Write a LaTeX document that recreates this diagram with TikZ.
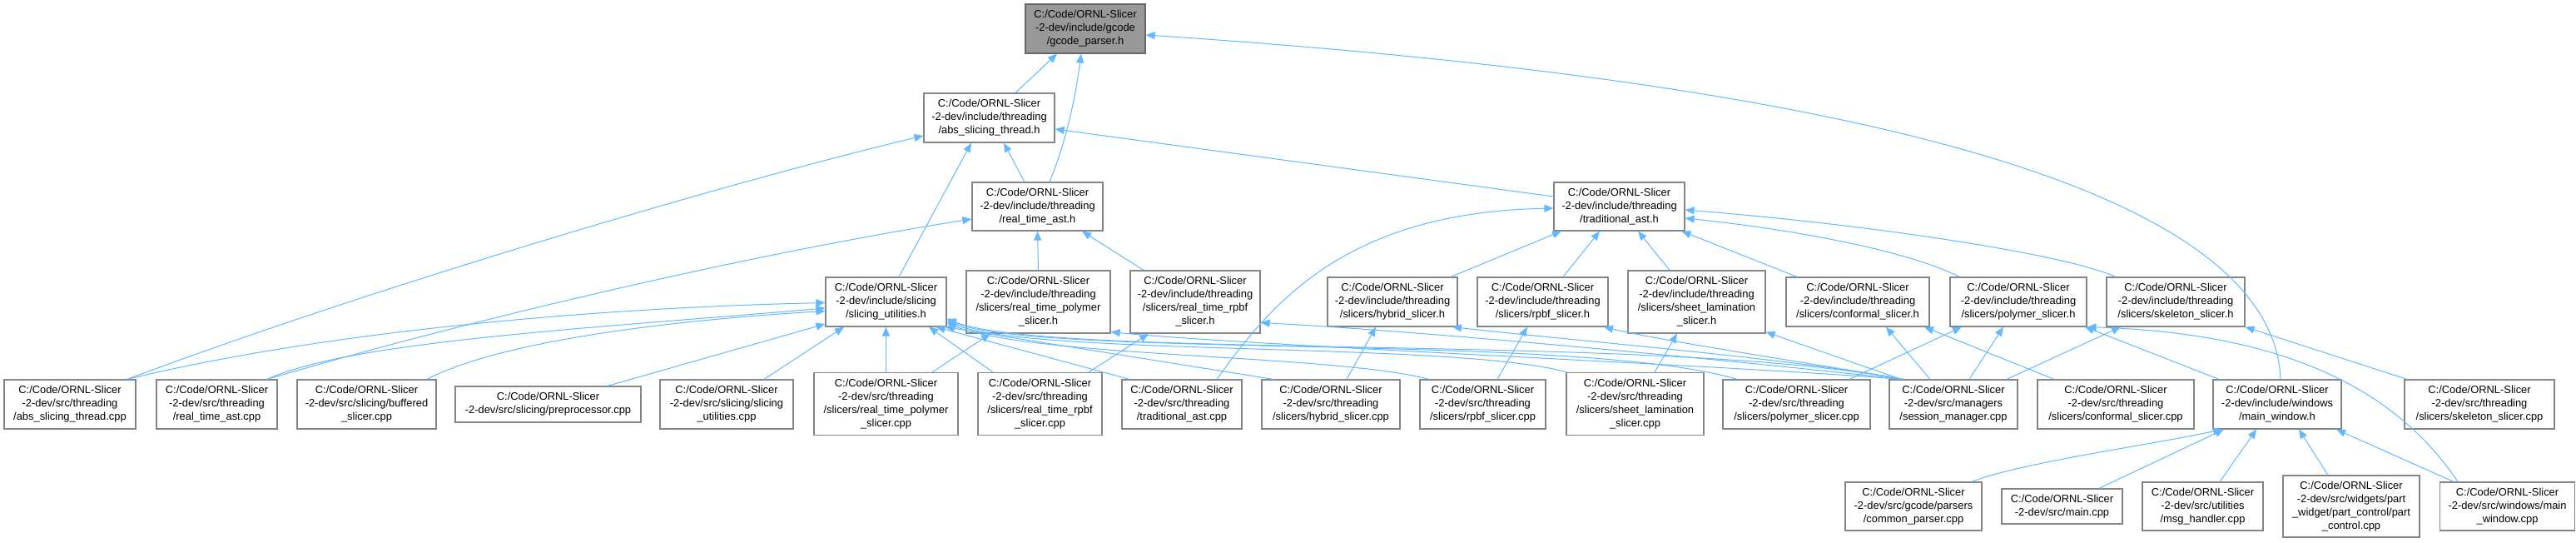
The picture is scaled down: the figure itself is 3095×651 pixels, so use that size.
\documentclass[tikz,border=0pt]{standalone}
\usepackage{fontspec}
\setmainfont{Liberation Sans}
\usetikzlibrary{arrows.meta}
\definecolor{edgeblue}{HTML}{63B8FF}
\definecolor{nodeborder}{HTML}{858585}
\definecolor{rootborder}{HTML}{666666}
\definecolor{rootfill}{HTML}{999999}
\tikzset{
  box/.style={draw=nodeborder, fill=white, line width=1.2pt, align=center, inner sep=0pt,
    font=\fontsize{12.9}{16}\selectfont},
  rootbox/.style={box, draw=rootborder, fill=rootfill},
  edge/.style={draw=edgeblue, line width=1pt, -{Triangle[length=11pt,width=9pt]}},
}
\begin{document}
\begin{tikzpicture}[x=1pt,y=-1pt]
\useasboundingbox (0,0) rectangle (3095,651);
% level 0-2
\node[rootbox, minimum width=144, minimum height=59] (gp) at (1304,34.5) {C:/Code/ORNL-Slicer\\-2-dev/include/gcode\\/gcode\_parser.h};
\node[box, minimum width=157, minimum height=59] (asth) at (1188.5,141.5) {C:/Code/ORNL-Slicer\\-2-dev/include/threading\\/abs\_slicing\_thread.h};
\node[box, minimum width=157, minimum height=58] (rtah) at (1246.5,248) {C:/Code/ORNL-Slicer\\-2-dev/include/threading\\/real\_time\_ast.h};
\node[box, minimum width=157, minimum height=58] (trah) at (1945.5,248) {C:/Code/ORNL-Slicer\\-2-dev/include/threading\\/traditional\_ast.h};
% level 3
\node[box, minimum width=145, minimum height=59] (suh) at (1064.5,362.5) {C:/Code/ORNL-Slicer\\-2-dev/include/slicing\\/slicing\_utilities.h};
\node[box, minimum width=173, minimum height=75] (rtph) at (1247.5,362.5) {C:/Code/ORNL-Slicer\\-2-dev/include/threading\\/slicers/real\_time\_polymer\\\_slicer.h};
\node[box, minimum width=156, minimum height=75] (rtrh) at (1436,362.5) {C:/Code/ORNL-Slicer\\-2-dev/include/threading\\/slicers/real\_time\_rpbf\\\_slicer.h};
\node[box, minimum width=156, minimum height=59] (hyh) at (1673,362.5) {C:/Code/ORNL-Slicer\\-2-dev/include/threading\\/slicers/hybrid\_slicer.h};
\node[box, minimum width=157, minimum height=59] (rph) at (1853.5,362.5) {C:/Code/ORNL-Slicer\\-2-dev/include/threading\\/slicers/rpbf\_slicer.h};
\node[box, minimum width=165, minimum height=75] (slh) at (2038.5,362.5) {C:/Code/ORNL-Slicer\\-2-dev/include/threading\\/slicers/sheet\_lamination\\\_slicer.h};
\node[box, minimum width=172, minimum height=59] (cfh) at (2232,362.5) {C:/Code/ORNL-Slicer\\-2-dev/include/threading\\/slicers/conformal\_slicer.h};
\node[box, minimum width=164, minimum height=59] (poh) at (2425,362.5) {C:/Code/ORNL-Slicer\\-2-dev/include/threading\\/slicers/polymer\_slicer.h};
\node[box, minimum width=166, minimum height=59] (skh) at (2614,362.5) {C:/Code/ORNL-Slicer\\-2-dev/include/threading\\/slicers/skeleton\_slicer.h};
% level 4
\node[box, minimum width=158, minimum height=59] (astc) at (84,485.5) {C:/Code/ORNL-Slicer\\-2-dev/src/threading\\/abs\_slicing\_thread.cpp};
\node[box, minimum width=145, minimum height=59] (rtac) at (260.5,485.5) {C:/Code/ORNL-Slicer\\-2-dev/src/threading\\/real\_time\_ast.cpp};
\node[box, minimum width=167, minimum height=59] (bufc) at (440.5,485.5) {C:/Code/ORNL-Slicer\\-2-dev/src/slicing/buffered\\\_slicer.cpp};
\node[box, minimum width=223, minimum height=43] (prec) at (658.5,485.5) {C:/Code/ORNL-Slicer\\-2-dev/src/slicing/preprocessor.cpp};
\node[box, minimum width=160, minimum height=59] (suc) at (873,485.5) {C:/Code/ORNL-Slicer\\-2-dev/src/slicing/slicing\\\_utilities.cpp};
\node[box, minimum width=173, minimum height=75] (rtpc) at (1064.5,485) {C:/Code/ORNL-Slicer\\-2-dev/src/threading\\/slicers/real\_time\_polymer\\\_slicer.cpp};
\node[box, minimum width=149, minimum height=75] (rtrc) at (1249.5,485) {C:/Code/ORNL-Slicer\\-2-dev/src/threading\\/slicers/real\_time\_rpbf\\\_slicer.cpp};
\node[box, minimum width=144, minimum height=59] (trac) at (1420,485.5) {C:/Code/ORNL-Slicer\\-2-dev/src/threading\\/traditional\_ast.cpp};
\node[box, minimum width=166, minimum height=59] (hyc) at (1599,485.5) {C:/Code/ORNL-Slicer\\-2-dev/src/threading\\/slicers/hybrid\_slicer.cpp};
\node[box, minimum width=151, minimum height=59] (rpc) at (1781.5,485.5) {C:/Code/ORNL-Slicer\\-2-dev/src/threading\\/slicers/rpbf\_slicer.cpp};
\node[box, minimum width=165, minimum height=75] (slc) at (1964.5,485) {C:/Code/ORNL-Slicer\\-2-dev/src/threading\\/slicers/sheet\_lamination\\\_slicer.cpp};
\node[box, minimum width=177, minimum height=59] (poc) at (2158.5,485.5) {C:/Code/ORNL-Slicer\\-2-dev/src/threading\\/slicers/polymer\_slicer.cpp};
\node[box, minimum width=154, minimum height=59] (smc) at (2347,485.5) {C:/Code/ORNL-Slicer\\-2-dev/src/managers\\/session\_manager.cpp};
\node[box, minimum width=188, minimum height=59] (cfc) at (2542,485.5) {C:/Code/ORNL-Slicer\\-2-dev/src/threading\\/slicers/conformal\_slicer.cpp};
\node[box, minimum width=154, minimum height=59] (mwh) at (2736,485.5) {C:/Code/ORNL-Slicer\\-2-dev/include/windows\\/main\_window.h};
\node[box, minimum width=180, minimum height=59] (skc) at (2979,485.5) {C:/Code/ORNL-Slicer\\-2-dev/src/threading\\/slicers/skeleton\_slicer.cpp};
% level 5
\node[box, minimum width=164, minimum height=58] (cpc) at (2299,608) {C:/Code/ORNL-Slicer\\-2-dev/src/gcode/parsers\\/common\_parser.cpp};
\node[box, minimum width=145, minimum height=42] (mainc) at (2477.5,608) {C:/Code/ORNL-Slicer\\-2-dev/src/main.cpp};
\node[box, minimum width=145, minimum height=58] (msgc) at (2646.5,608) {C:/Code/ORNL-Slicer\\-2-dev/src/utilities\\/msg\_handler.cpp};
\node[box, minimum width=164, minimum height=74] (pcc) at (2825,608) {C:/Code/ORNL-Slicer\\-2-dev/src/widgets/part\\\_widget/part\_control/part\\\_control.cpp};
\node[box, minimum width=162, minimum height=58] (mwc) at (3012.5,608) {C:/Code/ORNL-Slicer\\-2-dev/src/windows/main\\\_window.cpp};

% edges to gcode_parser.h
\draw[edge] ([xshift=31.5pt]asth.north) -- ([xshift=-34pt]gp.south);
\draw[edge] ([xshift=14.5pt]rtah.north) .. controls (1283,165) and (1293,110) .. ([xshift=-5pt]gp.south);
\draw[edge] ([xshift=4pt]mwh.north) .. controls (2730,200) and (2100,90) .. ([yshift=-7.5pt]gp.east);
% edges to abs_slicing_thread.h
\draw[edge] ([xshift=-15.5pt]rtah.north) -- ([xshift=17.5pt]asth.south);
\draw[edge] ([xshift=69pt]astc.north) .. controls (420,355) and (850,225) .. ([yshift=-21.5pt]asth.west);
\draw[edge] ([xshift=15.5pt]suh.north) -- ([xshift=-21.5pt]asth.south);
\draw[edge] ([yshift=12pt]trah.west) -- ([yshift=-13.5pt]asth.east);
% edges to real_time_ast.h
\draw[edge] ([xshift=60.5pt]rtac.north) .. controls (560,385) and (900,305) .. ([yshift=-15pt]rtah.west);
\draw[edge] (rtph.north) -- (rtah.south);
\draw[edge] ([xshift=-62pt]rtrh.north) -- ([xshift=53.5pt]rtah.south);
% edges to traditional_ast.h
\draw[edge] ([xshift=42pt]trac.north) .. controls (1530,360) and (1620,255) .. ([yshift=-2pt]trah.west);
\draw[edge] ([xshift=70pt]hyh.north) -- ([xshift=-69.5pt]trah.south);
\draw[edge] ([xshift=24.5pt]rph.north) -- ([xshift=-23.5pt]trah.south);
\draw[edge] ([xshift=-32.5pt]slh.north) -- ([xshift=22.5pt]trah.south);
\draw[edge] ([xshift=-73pt]cfh.north) -- ([xshift=75pt]trah.south);
\draw[edge] ([xshift=-72pt]skh.north) .. controls (2480,305) and (2250,270) .. ([yshift=-4pt]trah.east);
\draw[edge] ([xshift=-71pt]poh.north) .. controls (2290,300) and (2150,275) .. ([yshift=-14pt]trah.east);
% edges to slicing_utilities.h
\draw[edge] ([xshift=69pt]astc.north) .. controls (380,400) and (700,370) .. ([yshift=-1pt]suh.west);
\draw[edge] ([xshift=60.5pt]rtac.north) .. controls (420,410) and (700,395) .. ([yshift=-7.5pt]suh.west);
\draw[edge] ([xshift=72.5pt]bufc.north) .. controls (600,410) and (800,385) .. ([yshift=-11pt]suh.west);
\draw[edge] ([xshift=71.5pt]prec.north) -- ([yshift=-26.5pt]suh.west);
\draw[edge] ([xshift=45pt]suc.north) -- ([xshift=-50.5pt]suh.south);
\draw[edge] (rtpc.north) -- (suh.south);
\draw[edge] ([xshift=-56.5pt]rtrc.north) -- ([xshift=51.5pt]suh.south);
\draw[edge] ([xshift=-63pt]trac.north) -- ([xshift=60pt]suh.south);
\draw[edge] ([xshift=-69pt]hyc.north) -- ([xshift=-2pt]suh.south east);
\draw[edge] ([xshift=-64.5pt]rpc.north) .. controls (1600,425) and (1250,430) .. ([yshift=4pt]suh.south east);
\draw[edge] ([xshift=-82pt]slc.north) .. controls (1750,410) and (1250,428) .. ([yshift=6pt]suh.south east);
\draw[edge] ([xshift=-71.5pt]poc.north) .. controls (1900,400) and (1260,430) .. ([yshift=8pt]suh.south east);
\draw[edge] ([xshift=-63pt]smc.north) .. controls (2000,400) and (1260,432) .. ([yshift=10pt]suh.south east);
% real time slicers
\draw[edge] ([xshift=55.5pt]rtpc.north) -- ([xshift=-57.5pt]rtph.south);
\draw[edge] ([xshift=58.5pt]rtrc.north) -- ([xshift=-56pt]rtrh.south);
\draw[edge] ([xshift=-63pt]smc.north) .. controls (2100,440) and (1500,415) .. ([yshift=2pt]rtph.south east);
\draw[edge] ([xshift=-63pt]smc.north) .. controls (2150,440) and (1750,400) .. ([yshift=-25pt]rtrh.east);
% traditional slicers
\draw[edge] ([xshift=19pt]hyc.north) -- ([xshift=-20pt]hyh.south);
\draw[edge] ([xshift=-60pt]smc.north) .. controls (2150,430) and (1900,410) .. ([xshift=72pt]hyh.south);
\draw[edge] ([xshift=17.5pt]rpc.north) -- ([xshift=-18.5pt]rph.south);
\draw[edge] ([xshift=-60pt]smc.north) .. controls (2200,440) and (2000,410) .. ([xshift=73.5pt]rph.south);
\draw[edge] ([xshift=23.5pt]slc.north) -- ([xshift=-23.5pt]slh.south);
\draw[edge] ([xshift=-63pt]smc.north) -- ([yshift=2pt]slh.south east);
\draw[edge] ([xshift=-28pt]smc.north) -- ([xshift=34pt]cfh.south);
\draw[edge] ([xshift=-74pt]cfc.north) -- ([xshift=80pt]cfh.south);
\draw[edge] ([xshift=63.5pt]poc.north) -- ([xshift=-68pt]poh.south);
\draw[edge] ([xshift=19pt]smc.north) -- ([xshift=-18pt]poh.south);
\draw[edge] ([xshift=-70pt]mwh.north) -- ([xshift=80pt]poh.south);
\draw[edge] ([xshift=-59.5pt]mwc.north) .. controls (2880,470) and (2750,400) .. (poh.south east);
\draw[edge] ([xshift=64pt]smc.north) -- ([xshift=-66pt]skh.south);
\draw[edge] ([xshift=-87pt]skc.north) -- (skh.south east);
% main_window.h
\draw[edge] ([xshift=70pt]cpc.north) .. controls (2430,555) and (2580,535) .. ([xshift=-66pt]mwh.south);
\draw[edge] ([xshift=44.5pt]mainc.north) -- ([xshift=-64pt]mwh.south);
\draw[edge] ([xshift=20.5pt]msgc.north) -- ([xshift=-25pt]mwh.south);
\draw[edge] ([xshift=-28pt]pcc.north) -- ([xshift=26pt]mwh.south);
\draw[edge] ([xshift=-64.5pt]mwc.north) -- ([xshift=71pt]mwh.south);
\end{tikzpicture}
\end{document}
